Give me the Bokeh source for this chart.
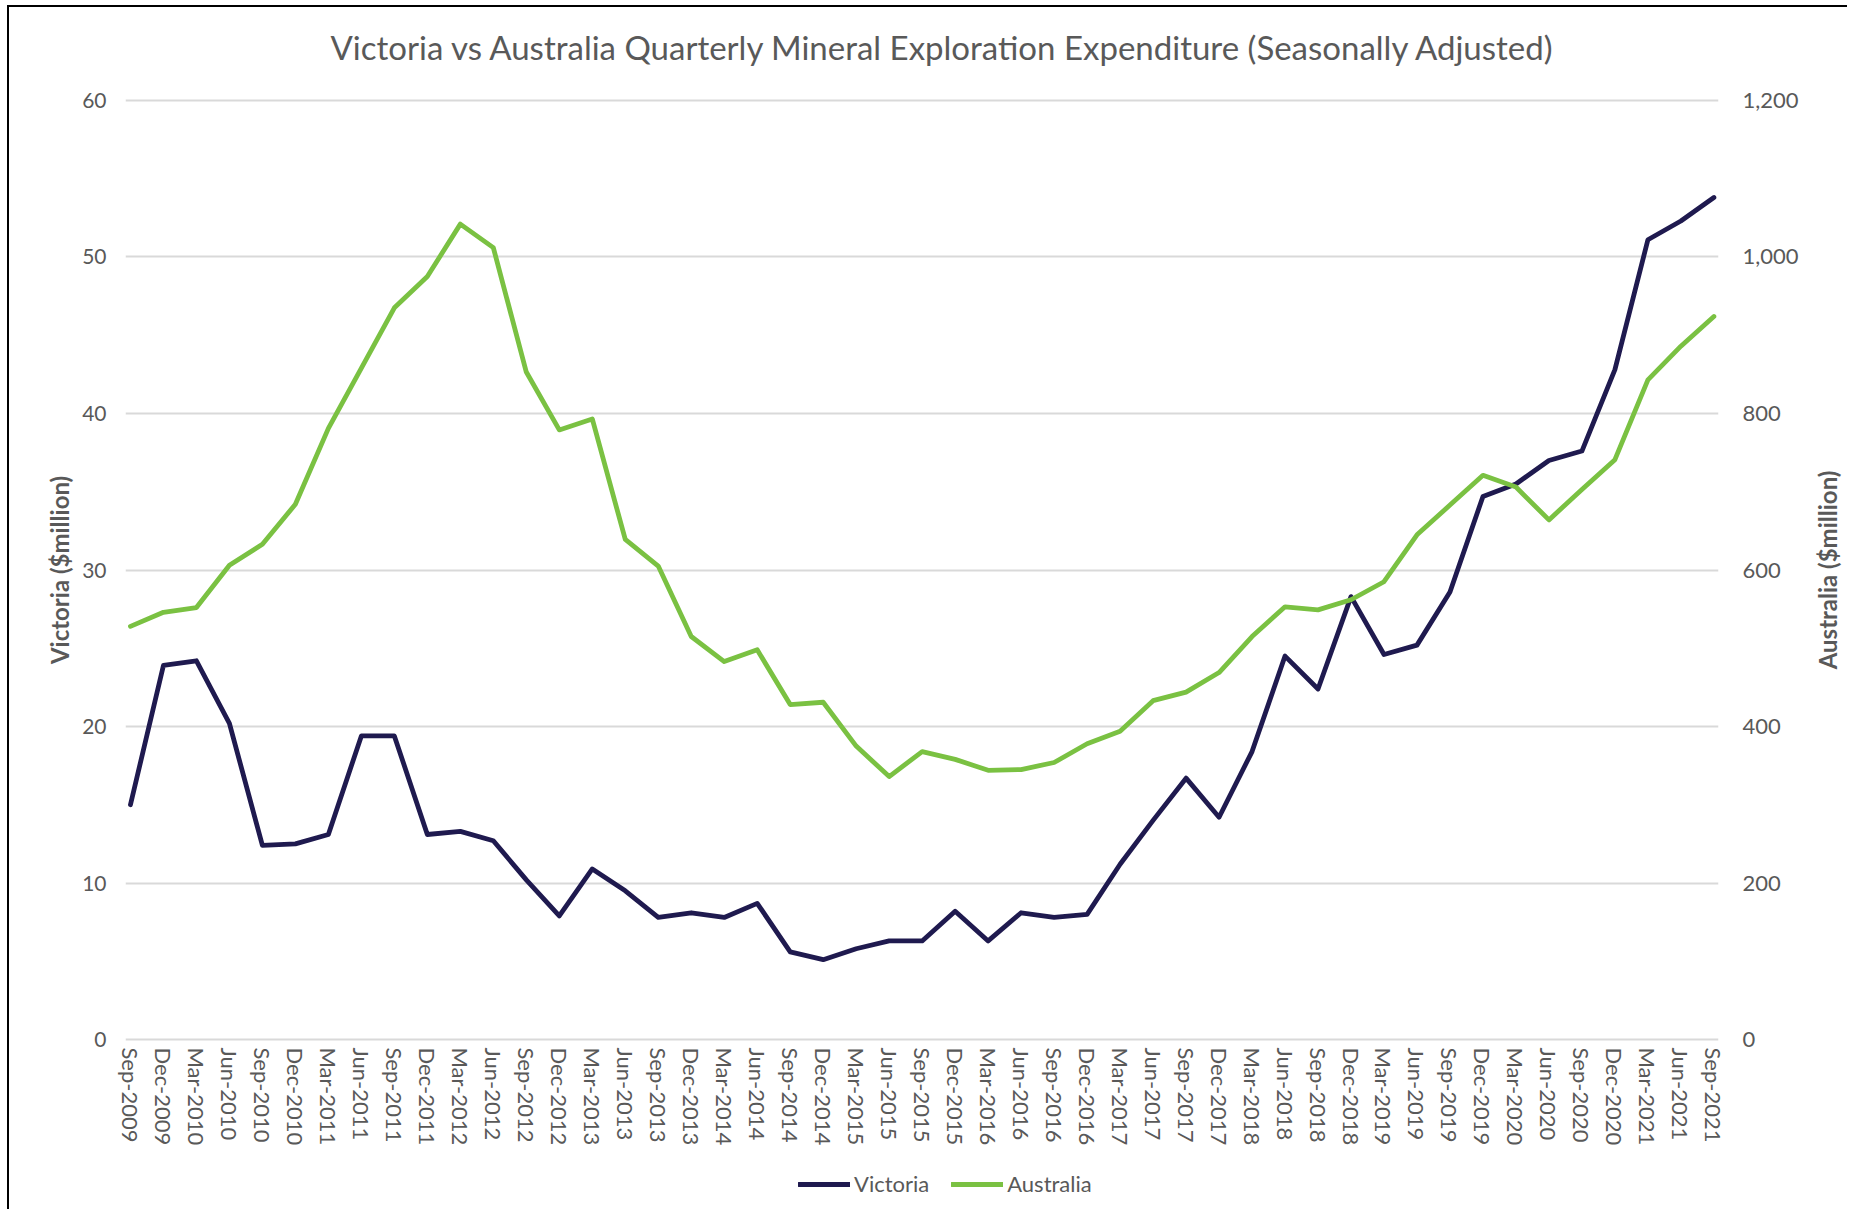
from bokeh.plotting import figure
from bokeh.layouts import column, row
from bokeh.models import (Range1d, LinearAxis, FixedTicker, Legend, LegendItem,
                          NumeralTickFormatter, Title)
from bokeh.embed import file_html
from bokeh.resources import INLINE

quarters = [
    "Sep-2009", "Dec-2009",
    "Mar-2010", "Jun-2010", "Sep-2010", "Dec-2010",
    "Mar-2011", "Jun-2011", "Sep-2011", "Dec-2011",
    "Mar-2012", "Jun-2012", "Sep-2012", "Dec-2012",
    "Mar-2013", "Jun-2013", "Sep-2013", "Dec-2013",
    "Mar-2014", "Jun-2014", "Sep-2014", "Dec-2014",
    "Mar-2015", "Jun-2015", "Sep-2015", "Dec-2015",
    "Mar-2016", "Jun-2016", "Sep-2016", "Dec-2016",
    "Mar-2017", "Jun-2017", "Sep-2017", "Dec-2017",
    "Mar-2018", "Jun-2018", "Sep-2018", "Dec-2018",
    "Mar-2019", "Jun-2019", "Sep-2019", "Dec-2019",
    "Mar-2020", "Jun-2020", "Sep-2020", "Dec-2020",
    "Mar-2021", "Jun-2021", "Sep-2021",
]

victoria = [
    15.0, 23.9, 24.2, 20.2, 12.4, 12.5, 13.1, 19.4, 19.4, 13.1,
    13.3, 12.7, 10.2, 7.9, 10.9, 9.5, 7.8, 8.1, 7.8, 8.7,
    5.6, 5.1, 5.8, 6.3, 6.3, 8.2, 6.3, 8.1, 7.8, 8.0,
    11.2, 14.0, 16.7, 14.2, 18.4, 24.5, 22.4, 28.3, 24.6, 25.2,
    28.6, 34.7, 35.5, 37.0, 37.6, 42.8, 51.1, 52.3, 53.8,
]

australia = [
    528, 546, 552, 606, 633, 684, 781, 858, 935, 975,
    1042, 1012, 853, 779, 793, 639, 605, 515, 483, 498,
    428, 431, 375, 336, 368, 358, 344, 345, 354, 378,
    394, 433, 444, 469, 515, 553, 549, 562, 585, 645,
    683, 721, 706, 664, 703, 741, 843, 886, 924,
]

victoria_ticks = [0, 10, 20, 30, 40, 50, 60]
australia_ticks = [0, 200, 400, 600, 800, 1000, 1200]

FONT = "Lato"
GREY = "#595959"
NAVY = "#1F1A4F"
GREEN = "#7AC142"

TITLE_H = 78
TOP, FRAME_H, BOTTOM = 12, 945, 112
LEFT, FRAME_W, RIGHT = 116, 1601, 75
H1 = TOP + FRAME_H + BOTTOM
W1 = LEFT + FRAME_W + RIGHT
W2 = 46

x = list(range(len(quarters)))

# title strip
tf = figure(
    width=W1 + W2, height=TITLE_H, output_backend="svg", toolbar_location=None,
    x_axis_location=None, y_axis_location=None,
    min_border_left=LEFT, min_border_right=0, min_border_top=0, min_border_bottom=0,
    x_range=Range1d(0, 1), y_range=Range1d(0, 1), title=None,
)
tf.grid.visible = False
tf.outline_line_color = None
tf.add_layout(Title(text="Victoria vs Australia Quarterly Mineral Exploration Expenditure (Seasonally Adjusted)",
                    text_font=FONT, text_font_size="33px", text_font_style="normal",
                    text_color=GREY, align="left", offset=205, standoff=35), "above")

p = figure(
    width=W1, height=H1,
    x_range=Range1d(-0.15, len(quarters) - 1 + 0.14),
    y_range=Range1d(-0.19, 60.19),
    output_backend="svg", toolbar_location=None, title=None,
    min_border_left=LEFT, min_border_right=RIGHT,
    min_border_top=TOP, min_border_bottom=BOTTOM,
    background_fill_color="white", border_fill_color="white",
)
p.extra_y_ranges = {"aus": Range1d(-3.8, 1203.8)}
p.outline_line_color = None

# left axis
ya = p.yaxis[0]
ya.ticker = FixedTicker(ticks=victoria_ticks)
ya.axis_label = "Victoria ($million)"
ya.axis_label_text_font = FONT
ya.axis_label_text_font_size = "24px"
ya.axis_label_text_font_style = "bold"
ya.axis_label_text_color = GREY
ya.axis_label_standoff = 5
ya.major_label_text_font = FONT
ya.major_label_text_font_size = "21px"
ya.major_label_text_color = GREY
ya.major_label_standoff = 19

# right axis (ticks only; its title is drawn by the narrow side figure)
ra = LinearAxis(y_range_name="aus", ticker=FixedTicker(ticks=australia_ticks),
                formatter=NumeralTickFormatter(format="0,0"))
ra.major_label_text_font = FONT
ra.major_label_text_font_size = "22px"
ra.major_label_text_color = GREY
ra.major_label_standoff = 24
p.add_layout(ra, "right")

# bottom axis
xa = p.xaxis[0]
xa.ticker = FixedTicker(ticks=x)
xa.major_label_overrides = {i: q for i, q in zip(x, quarters)}
xa.major_label_orientation = "vertical"
xa.major_label_text_font = FONT
xa.major_label_text_font_size = "22px"
xa.major_label_text_color = GREY
xa.major_label_standoff = 5

for ax in [ya, ra, xa]:
    ax.axis_line_color = None
    ax.major_tick_line_color = None
    ax.minor_tick_line_color = None
    ax.major_tick_out = 0
    ax.major_tick_in = 0
    ax.minor_tick_out = 0
    ax.minor_tick_in = 0

p.xgrid.visible = False
p.ygrid.ticker = FixedTicker(ticks=victoria_ticks)
p.ygrid.grid_line_color = "#D9D9D9"
p.ygrid.grid_line_width = 2

r_vic = p.line(x, victoria, line_color=NAVY, line_width=4.8,
               line_join="round", line_cap="round")
r_aus = p.line(x, australia, y_range_name="aus", line_color=GREEN, line_width=4.8,
               line_join="round", line_cap="round")

# narrow side figure carrying the right-hand axis title (reads bottom-to-top)
pr = figure(
    width=W2, height=H1, output_backend="svg", toolbar_location=None, title=None,
    x_axis_location=None, y_axis_location=None,
    min_border_left=45, min_border_right=0,
    min_border_top=TOP, min_border_bottom=BOTTOM,
    x_range=Range1d(0, 1), y_range=Range1d(0, 1),
)
pr.grid.visible = False
pr.outline_line_color = None
pr.add_layout(Title(text="Australia ($million)", align="center",
                    text_font=FONT, text_font_size="24px", text_font_style="bold",
                    text_color=GREY, standoff=10), "left")

# legend strip below the chart (its sample lines lie outside its own view)
lf = figure(
    width=W1 + W2, height=55, output_backend="svg", toolbar_location=None, title=None,
    x_axis_location=None, y_axis_location=None, min_border=0,
    x_range=Range1d(0, 1), y_range=Range1d(0, 1),
)
lf.grid.visible = False
lf.outline_line_color = None
l_vic = lf.line(x, victoria, line_color=NAVY, line_width=4.8, line_cap="round")
l_aus = lf.line(x, australia, line_color=GREEN, line_width=4.8, line_cap="round")
legend = Legend(items=[LegendItem(label="Victoria", renderers=[l_vic]),
                       LegendItem(label="Australia", renderers=[l_aus])],
                orientation="horizontal", location=(673, 12))
legend.label_text_font = FONT
legend.label_text_font_size = "22px"
legend.label_text_color = GREY
legend.glyph_width = 52
legend.glyph_height = 20
legend.label_standoff = 4
legend.spacing = 22
legend.border_line_color = None
legend.background_fill_alpha = 0
legend.margin = 0
legend.padding = 0
lf.add_layout(legend)

layout = column(tf, row(p, pr), lf)
layout.styles = {"margin-left": "7px", "margin-top": "5px",
                 "border-left": "2px solid black", "border-top": "2px solid black"}

open("out.html", "w").write(file_html(layout, INLINE))
